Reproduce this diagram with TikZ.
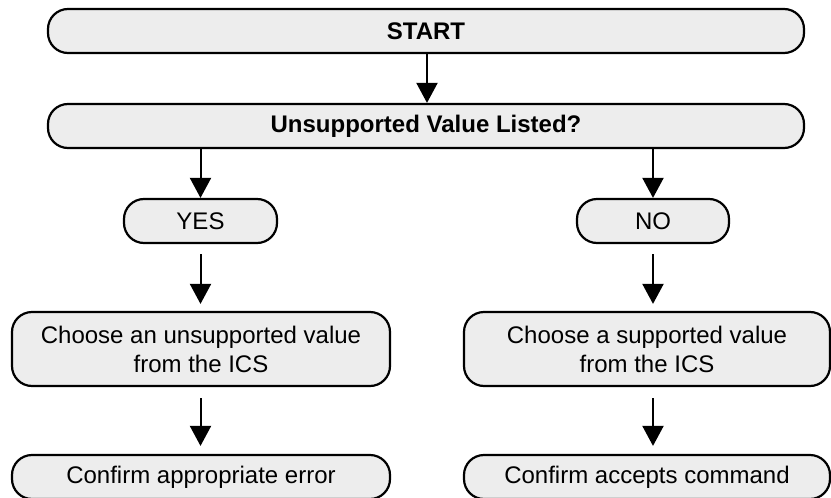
\documentclass[tikz,border=0pt]{standalone}
\usepackage{fontspec}
\setmainfont{Liberation Sans}
\usetikzlibrary{arrows.meta}
\definecolor{boxgray}{HTML}{EDEDED}
\begin{document}
\begin{tikzpicture}[x=1pt,y=-1pt,
  box/.style={draw=black, line width=2.2pt, fill=boxgray, rounded corners=20pt,
    inner sep=0pt, font=\fontsize{24}{29}\selectfont, align=center, minimum height=44pt},
  boldbox/.style={box, font=\fontsize{24}{29}\selectfont\bfseries},
  arr/.style={line width=2pt, -{Triangle[width=21pt,length=20pt]}}]
\clip (0,0) rectangle (831,498);
\node[boldbox, minimum width=756pt] (start) at (426,31) {START};
\node[boldbox, minimum width=756pt] (unsup) at (426,126) {Unsupported Value Listed?};
\node[box, minimum width=153pt] (yes) at (200.5,221) {YES};
\node[box, minimum width=152pt] (no) at (653,221) {NO};
\node[box, minimum width=378pt, minimum height=74pt] (chl) at (201,349) {Choose an unsupported value\\from the ICS};
\node[box, minimum width=366pt, minimum height=74pt] (chr) at (647,349) {Choose a supported value\\from the ICS};
\node[box, minimum width=378pt] (cfl) at (201,477) {Confirm appropriate error};
\node[box, minimum width=366pt] (cfr) at (647,477) {Confirm accepts command};
\draw[arr] (start.south) ++(1,0) coordinate (s1) -- (s1 |- unsup.north);
\draw[arr] (yes.north |- unsup.south) -- (yes.north);
\draw[arr] (no.north |- unsup.south) -- (no.north);
\draw[arr, shorten <=10pt, shorten >=7pt] (yes.south) -- (yes.south |- chl.north);
\draw[arr, shorten <=10pt, shorten >=7pt] (no.south) -- (no.south |- chr.north);
\draw[arr, shorten <=11pt, shorten >=8pt] (yes.south |- chl.south) -- (yes.south |- cfl.north);
\draw[arr, shorten <=11pt, shorten >=8pt] (no.south |- chr.south) -- (no.south |- cfr.north);
\end{tikzpicture}
\end{document}
